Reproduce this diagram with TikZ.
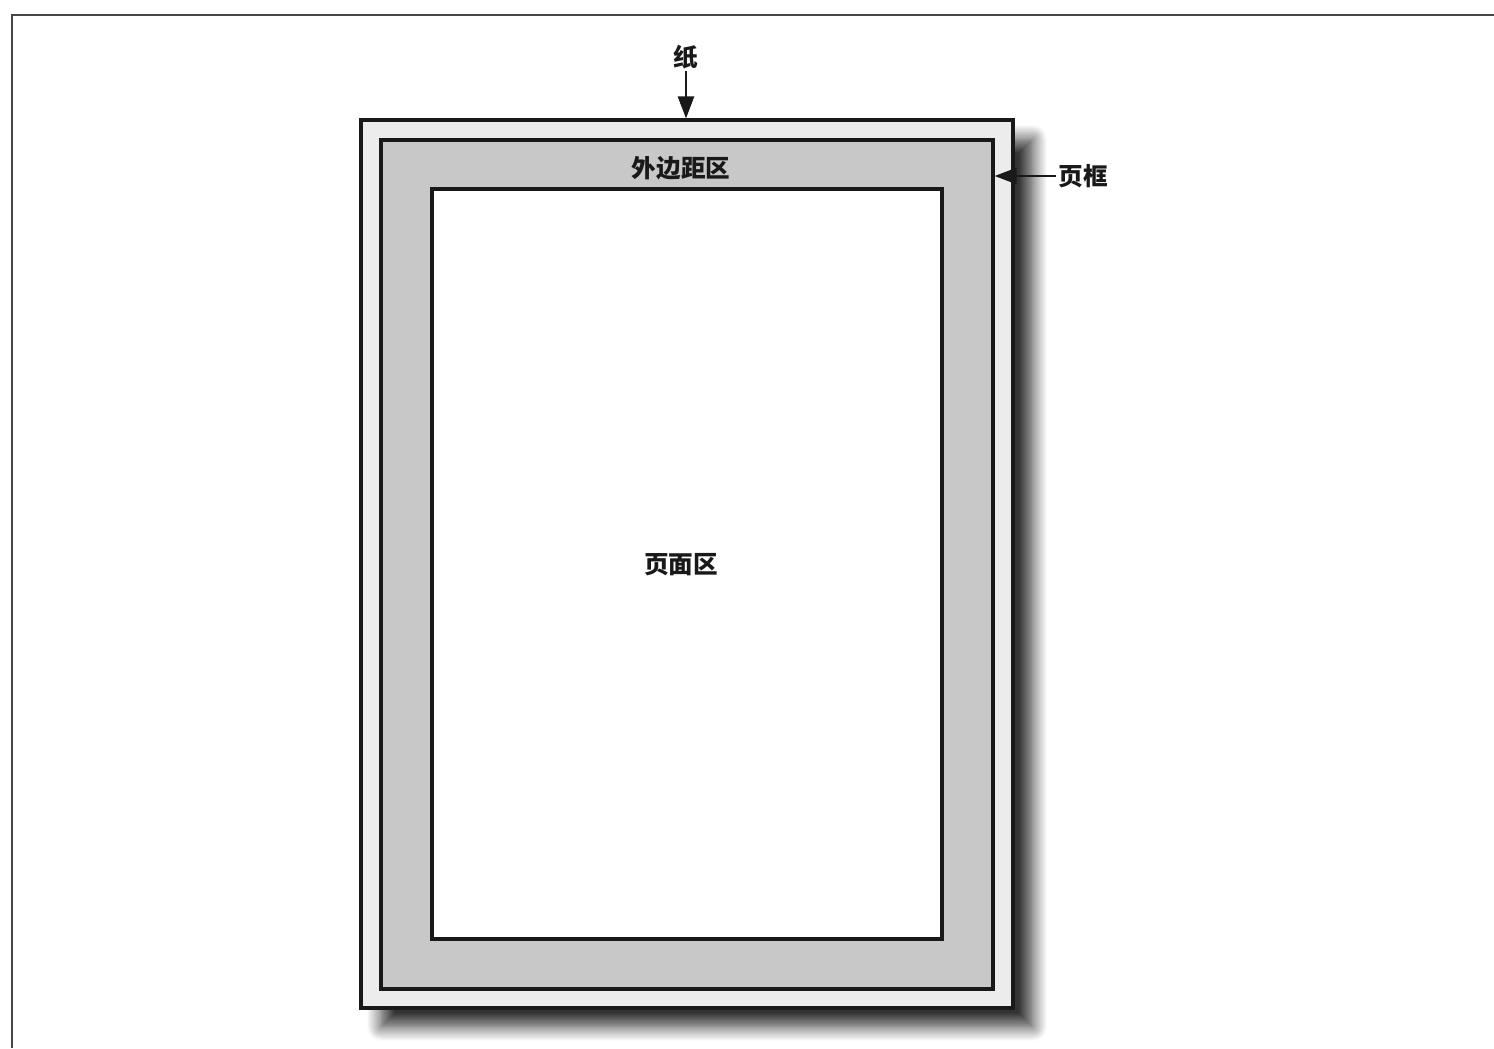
\documentclass[tikz,border=0pt]{standalone}
\usepackage{fontspec}
\usepackage{tikz}
\usetikzlibrary{
	arrows.meta, positioning, calc, shadows.blur
}
\newfontfamily\cjk{Noto Sans CJK SC}
\definecolor{paperlightgray} {RGB}{236, 236, 236}
\definecolor{borderlightgray}{RGB}{200, 200, 200}
\definecolor{edgedarkgray}   {RGB}{ 25,  25,  25}

\begin{document}
\begin{tikzpicture}[x=0.02cm,y=-0.02cm,
		box/.style={draw=edgedarkgray,line width=0.065cm,inner sep=0pt},
		lbl/.style={font=\cjk\bfseries\fontsize{14}{16}\selectfont,text=edgedarkgray,inner sep=1pt},
		pointer/.style={draw=edgedarkgray,line width=0.05cm,-{Triangle[length=0.44cm,width=0.32cm]}}
	]
						\useasboundingbox (0,0) rectangle (1494,1048);
						\draw[edgedarkgray!80,line width=0.04cm] (12,1048)--(12,15)--(1494,15);
						\node[box,fill=paperlightgray,minimum width=13.04cm,minimum height=17.76cm,
							blur shadow={shadow xshift=0.4cm,shadow yshift=-0.38cm,shadow blur radius=0.28cm,shadow blur steps=14,shadow opacity=80}]
							(paper) at (687,564) {};
						\node[box,fill=borderlightgray,minimum width=12.24cm,minimum height=16.98cm] (border) at (687,564.5) {};
						\node[box,fill=white,minimum width=10.2cm,minimum height=15.0cm] (content) at (687,564) {};
						\node[lbl] (zhi) at (686,57) {纸};
						\node[lbl] (margin) at (681,168) {外边距区};
						\node[lbl] (yekuang) at (1083,176) {页框};
						\node[lbl] (mianqu) at (681,565) {页面区};
						\draw[pointer] (zhi.south) -- (zhi.south |- paper.north);
						\draw[pointer] (yekuang.west) -- (yekuang.west -| border.east);
					\end{tikzpicture}
\end{document}
